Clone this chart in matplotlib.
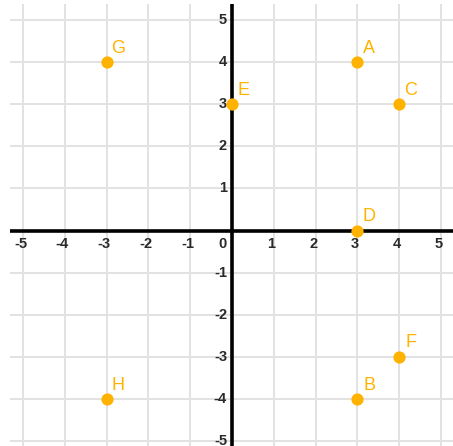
import matplotlib
matplotlib.use("Agg")
import matplotlib.pyplot as plt

labels = ["A", "B", "C", "D", "E", "F", "G", "H"]
xs = [3, 3, 4, 3, 0, 4, -3, -3]
ys = [4, -4, 3, 0, 3, -3, 4, -4]
ticks = [-5, -4, -3, -2, -1, 1, 2, 3, 4, 5]

W, H = 453, 446
fig = plt.figure(figsize=(W / 100, H / 100), dpi=100)
ax = fig.add_axes([0, 0, 1, 1])

# pixel mapping
px_per_x = 41.8
x0_px = 232.0
px_per_y = 42.1
y0_px = 230.5

def xp(p):
    return (p - x0_px) / px_per_x

def yp(p):
    return (y0_px - p) / px_per_y

ax.set_xlim(xp(0), xp(W))
ax.set_ylim(yp(H), yp(0))
ax.axis("off")

grid_c = "#e2e2e2"
left = xp(10)
top = yp(4)
for t in range(-5, 6):
    ax.plot([left, xp(W)], [t, t], color=grid_c, lw=1.4, zorder=1, solid_capstyle="butt")
    ax.plot([t, t], [yp(H), top], color=grid_c, lw=1.4, zorder=1, solid_capstyle="butt")

# axes
ax.plot([left, xp(W)], [0, 0], color="black", lw=2.6, zorder=2, solid_capstyle="butt")
ax.plot([0, 0], [yp(H), top], color="black", lw=2.6, zorder=2, solid_capstyle="butt")

tick_kw = dict(fontsize=10.5, fontweight="bold", color="#2a2a2a", family="Liberation Sans", zorder=3)
for t in ticks:
    ax.text(t - 0.06, yp(244), str(t), ha="center", va="center", **tick_kw)
    ax.text(xp(227), t, str(t), ha="right", va="center", **tick_kw)
ax.text(xp(222), yp(244), "0", ha="center", va="center", **tick_kw)

orange = "#FFB300"
ax.plot(xs, ys, "o", color=orange, markersize=8.8, markeredgewidth=0, zorder=4)
for lab, x, y in zip(labels, xs, ys):
    ax.annotate(lab, (x, y), xytext=(8.5, 10), textcoords="offset points",
                ha="center", va="center", color=orange, fontsize=13,
                family="Liberation Sans", zorder=5)

fig.savefig("out.png", dpi=100)
